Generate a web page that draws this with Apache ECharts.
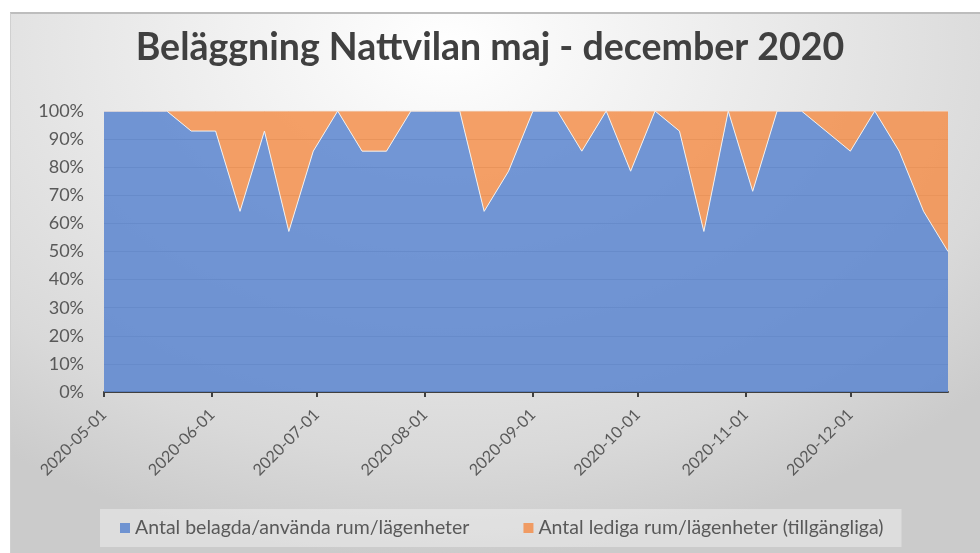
<!DOCTYPE html>
<html lang="sv">
<head>
    <meta charset="UTF-8">
    <title>Beläggning Nattvilan</title>
    <style>
        html, body { margin: 0; padding: 0; background: #ffffff; }
        #bg {
            position: absolute;
            left: 10px; top: 12px;
            width: 970px; height: 541px;
            border-top: 2px solid #bdbdbd;
            border-left: 1px solid #d0d0d0;
            box-sizing: border-box;
            background: radial-gradient(ellipse 75% 95% at 45% 6%, #ffffff 0%, #ececec 40%, #d9d9d9 80%, #cbcbcb 100%);
        }
        #main {
            position: absolute;
            left: 0; top: 0;
            width: 980px; height: 553px;
        }
    </style>
</head>
<body>
<div id="bg"></div>
<div id="main"></div>
<script src="https://cdn.jsdelivr.net/npm/echarts@6/dist/echarts.min.js"></script>
<script>
    // mätdatum (veckovis)
    const dates = [
        '2020-05-01', '2020-05-05', '2020-05-12', '2020-05-19', '2020-05-26',
        '2020-06-02', '2020-06-09', '2020-06-16', '2020-06-23', '2020-06-30',
        '2020-07-07', '2020-07-14', '2020-07-21', '2020-07-28',
        '2020-08-04', '2020-08-11', '2020-08-18', '2020-08-25',
        '2020-09-01', '2020-09-08', '2020-09-15', '2020-09-22', '2020-09-29',
        '2020-10-06', '2020-10-13', '2020-10-20', '2020-10-27',
        '2020-11-03', '2020-11-10', '2020-11-17', '2020-11-24',
        '2020-12-01', '2020-12-08', '2020-12-15', '2020-12-22', '2020-12-29'
    ];
    // antal belagda rum/lägenheter
    const occupied = [
        14, 14, 14, 14, 13,
        13, 9, 13, 8, 12,
        14, 12, 12, 14,
        14, 14, 9, 11,
        14, 14, 12, 14, 11,
        14, 13, 8, 14,
        10, 14, 14, 13,
        12, 14, 12, 9, 7
    ];
    // antal lediga rum/lägenheter
    const vacant = [
        0, 0, 0, 0, 1,
        1, 5, 1, 6, 2,
        0, 2, 2, 0,
        0, 0, 5, 3,
        0, 0, 2, 0, 3,
        0, 1, 6, 0,
        4, 0, 0, 1,
        2, 0, 2, 5, 7
    ];
    // etiketter på x-axeln
    const monthTicks = [
        '2020-05-01', '2020-06-01', '2020-07-01', '2020-08-01',
        '2020-09-01', '2020-10-01', '2020-11-01', '2020-12-01'
    ];
    const yTicks = [0, 10, 20, 30, 40, 50, 60, 70, 80, 90, 100];

    const seriesNames = [
        'Antal belagda/använda rum/lägenheter',
        'Antal lediga rum/lägenheter (tillgängliga)'
    ];

    /*datumsträng -> lokal tid*/
    function toTime(s) {
        const p = s.split('-').map(Number);
        return new Date(p[0], p[1] - 1, p[2]).getTime();
    }

    /*100 % staplat: andel av totalen*/
    const occPct = [], vacPct = [];
    dates.forEach((d, i) => {
        const total = occupied[i] + vacant[i];
        occPct.push([toTime(d), occupied[i] / total * 100]);
        vacPct.push([toTime(d), vacant[i] / total * 100]);
    });

    const font = 'Lato, "Open Sans", sans-serif';
    const myChart = echarts.init(document.getElementById('main'));

    const option = {
        backgroundColor: 'transparent',
        animation: false,
        title: {
            text: 'Beläggning Nattvilan maj - december 2020',
            left: 'center',
            top: 24,
            textStyle: {
                fontFamily: font,
                fontWeight: 'bold',
                fontSize: 37.5,
                color: '#404040'
            }
        },
        legend: {
            left: 100,
            top: 509,
            padding: [9, 18, 9, 20],
            backgroundColor: 'rgba(255,255,255,0.35)',
            itemWidth: 10,
            itemHeight: 10,
            itemGap: 54,
            icon: 'rect',
            textStyle: {
                fontFamily: font,
                fontSize: 19.5,
                color: '#595959'
            },
            data: seriesNames
        },
        grid: {
            left: 104,
            right: 32,
            top: 111,
            bottom: 161,
            containLabel: false
        },
        xAxis: {
            type: 'time',
            min: toTime(dates[0]),
            max: toTime(dates[dates.length - 1]),
            axisLine: {
                lineStyle: { color: '#404040', width: 2 }
            },
            axisTick: {
                show: true,
                length: 5,
                lineStyle: { color: '#404040', width: 2 },
                customValues: monthTicks.map(toTime)
            },
            axisLabel: {
                rotate: 45,
                fontFamily: font,
                fontSize: 16,
                color: '#595959',
                margin: 20,
                customValues: monthTicks.map(toTime),
                formatter: '{yyyy}-{MM}-{dd}'
            },
            splitLine: { show: false }
        },
        yAxis: {
            type: 'value',
            min: 0,
            max: 100,
            interval: 10,
            axisLine: { show: false },
            axisTick: { show: false },
            axisLabel: {
                fontFamily: font,
                fontSize: 18,
                color: '#595959',
                margin: 20,
                customValues: yTicks,
                formatter: '{value}%'
            },
            splitLine: {
                lineStyle: { color: '#a8a8a8', width: 1 }
            }
        },
        series: [
            {
                name: seriesNames[0],
                type: 'line',
                stack: 'total',
                symbol: 'none',
                color: '#6f93d1',
                lineStyle: { color: '#f0f0f0', width: 1 },
                areaStyle: { color: '#5c86cf', opacity: 0.86 },
                data: occPct
            },
            {
                name: seriesNames[1],
                type: 'line',
                stack: 'total',
                symbol: 'none',
                color: '#f09b63',
                lineStyle: { color: '#fbe3d3', width: 1 },
                areaStyle: { color: '#f3904e', opacity: 0.86 },
                data: vacPct
            }
        ]
    };

    myChart.setOption(option);
</script>
</body>
</html>
